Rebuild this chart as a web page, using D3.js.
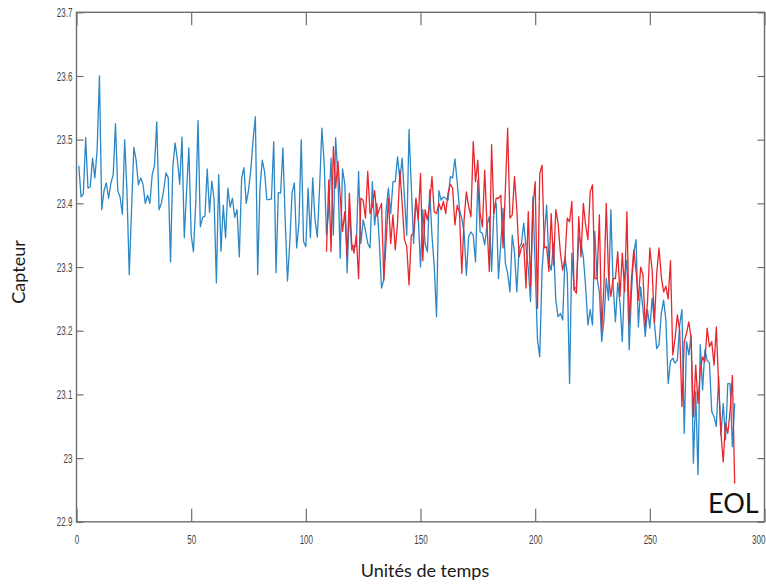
<!DOCTYPE html>
<html><head><meta charset="utf-8">
<script src="https://cdn.jsdelivr.net/npm/d3@7"></script>
<style>body{margin:0;background:#fff;}svg{display:block}</style>
</head><body>
<svg id="c" width="766" height="584"></svg>
<script>
const xTicks = [0, 50, 100, 150, 200, 250, 300];
const xTickLabels = ["0", "50", "100", "150", "200", "250", "300"];
const yTicks = [22.9, 23.0, 23.1, 23.2, 23.3, 23.4, 23.5, 23.6, 23.7];
const yTickLabels = ["22.9", "23", "23.1", "23.2", "23.3", "23.4", "23.5", "23.6", "23.7"];
const xLabel = "Unités de temps";
const yLabel = "Capteur";
const annotation = "EOL";

const blueStart = 1;
const blue = [
23.459,23.41,23.415,23.503,23.424,23.426,23.471,23.44,23.484,23.60,
23.39,23.42,23.432,23.408,23.432,23.445,23.525,23.42,23.41,23.383,
23.50,23.42,23.288,23.39,23.488,23.468,23.429,23.44,23.43,23.40,
23.413,23.40,23.445,23.459,23.528,23.39,23.40,23.42,23.448,23.44,
23.308,23.457,23.495,23.468,23.43,23.504,23.346,23.42,23.487,23.35,
23.324,23.40,23.53,23.363,23.378,23.38,23.454,23.386,23.435,23.406,
23.275,23.445,23.325,23.397,23.346,23.424,23.394,23.408,23.378,23.39,
23.316,23.44,23.456,23.40,23.42,23.453,23.50,23.536,23.288,23.424,
23.468,23.45,23.406,23.406,23.407,23.497,23.291,23.417,23.416,23.487,
23.374,23.278,23.338,23.417,23.432,23.33,23.37,23.50,23.34,23.332,
23.424,23.346,23.44,23.374,23.347,23.425,23.518,23.463,23.35,23.39,
23.471,23.35,23.503,23.44,23.314,23.454,23.43,23.291,23.39,23.327,
23.334,23.332,23.45,23.337,23.374,23.358,23.337,23.33,23.434,23.366,
23.40,23.342,23.267,23.28,23.39,23.424,23.384,23.434,23.434,23.473,
23.437,23.471,23.41,23.35,23.516,23.426,23.337,23.405,23.38,23.30,
23.39,23.337,23.324,23.421,23.35,23.30,23.222,23.42,23.405,23.41,
23.408,23.405,23.442,23.44,23.47,23.434,
23.39,23.376,23.355,23.287,23.348,23.355,23.35,23.308,23.437,23.355,
23.353,23.335,23.366,23.379,23.293,23.39,23.40,23.282,23.337,23.392,
23.306,23.29,23.261,23.35,23.322,23.261,23.33,23.337,23.369,23.332,
23.298,23.246,23.41,23.301,23.186,23.159,23.295,23.348,23.397,23.308,
23.295,23.337,23.248,23.222,
23.227,23.217,23.316,23.29,23.117,23.322,23.264,23.269,23.348,23.337,
23.316,23.269,23.209,23.233,23.209,23.356,23.282,23.261,23.183,23.217,
23.282,23.248,23.39,23.27,23.214,23.275,23.243,23.183,23.285,23.311,
23.17,23.261,23.322,23.343,23.206,23.269,23.235,23.191,23.233,23.204,
23.251,23.212,23.172,23.178,23.227,23.248,
23.217,23.117,23.152,23.157,23.149,23.154,23.209,23.233,23.039,23.183,
23.162,23.193,22.992,23.104,22.974,23.178,23.107,23.17,23.154,23.149,
23.073,23.065,23.05,23.128,23.036,23.086,23.029,23.117,23.117,23.018,23.086
];

const redStart = 109;
const red = [
23.324,23.437,23.324,23.489,23.424,23.466,23.41,23.356,23.387,23.316,
23.416,23.337,23.322,23.35,23.282,23.408,23.405,23.377,23.45,23.384,
23.395,23.42,23.38,23.39,23.40,23.28,23.34,23.408,23.337,23.382,
23.327,23.37,23.452,23.40,23.343,23.332,23.272,23.35,23.353,23.408,
23.374,23.447,23.31,23.39,23.374,23.40,23.442,23.387,23.384,23.40,
23.39,23.403,23.384,23.416,23.43,23.424,23.366,23.397,23.385,23.29,
23.374,23.418,23.395,23.379,23.497,23.434,23.468,23.384,23.363,23.452,
23.366,23.293,23.492,23.384,23.408,23.408,23.413,23.33,23.421,23.518,
23.377,23.382,23.442,23.39,23.316,23.33,23.337,23.267,23.387,23.27,
23.395,23.434,23.235,23.447,23.46,23.33,23.332,23.293,23.384,23.303,
23.39,23.369,23.322,23.295,23.314,23.377,23.371,23.403,23.264,23.259,
23.379,23.316,23.40,23.366,23.343,23.418,23.429,23.282,23.282,23.382,
23.199,23.272,23.40,23.285,23.254,23.282,23.282,23.324,23.254,23.322,
23.261,23.387,23.209,23.282,23.327,23.293,23.248,23.30,23.288,23.206,
23.246,23.33,23.295,23.212,23.29,23.33,23.285,23.261,23.27,23.25,
23.31,23.162,23.188,23.225,23.201,23.081,23.183,23.196,23.214,23.188,
23.065,23.146,23.086,23.138,23.159,23.151,23.204,23.175,23.183,23.146,
23.206,23.115,23.039,22.994,23.055,23.039,23.073,23.13,22.96
];

const svg = d3.select("#c");
const L = 76.5, R = 764.5, T = 12.3, B = 521.8;
const x = d3.scaleLinear().domain([0, 300]).range([L, R]);
const y = d3.scaleLinear().domain([22.9, 23.7]).range([B, T]);

const axisColor = "#6e6e6e";
const labelColor = "#444";
const sx = 0.62;

// frame
svg.append("rect").attr("x", L).attr("y", T).attr("width", R - L).attr("height", B - T)
  .attr("fill", "none").attr("stroke", axisColor).attr("stroke-width", 1.4);

function styleAxis(g) {
  g.select(".domain").remove();
  g.selectAll(".tick line").attr("stroke", axisColor).attr("stroke-width", 1.2);
  g.selectAll("text").attr("fill", labelColor)
    .attr("font-family", "'Liberation Sans', Arial, sans-serif").attr("font-size", 13);
}

// bottom
const gb = svg.append("g").attr("transform", `translate(0,${B})`)
  .call(d3.axisBottom(x).tickValues(xTicks).tickFormat((d, i) => xTickLabels[i])
    .tickSizeInner(-13).tickSizeOuter(0).tickPadding(13));
styleAxis(gb);
gb.selectAll("text").attr("transform", `scale(${sx},1)`);
// keep the last label inside the page
gb.selectAll("text").filter(d => d === xTicks[xTicks.length - 1])
  .attr("text-anchor", "end").attr("x", (765 - x(xTicks[xTicks.length - 1])) / sx);

// top
const gt = svg.append("g").attr("transform", `translate(0,${T})`)
  .call(d3.axisTop(x).tickValues(xTicks).tickFormat("").tickSizeInner(-13).tickSizeOuter(0));
styleAxis(gt);

// left
const gl = svg.append("g").attr("transform", `translate(${L},0)`)
  .call(d3.axisLeft(y).tickValues(yTicks).tickFormat((d, i) => yTickLabels[i])
    .tickSizeInner(-7).tickSizeOuter(0).tickPadding(4));
styleAxis(gl);
gl.selectAll("text").attr("x", -4 / sx).attr("transform", `scale(${sx},1)`);

// right
const gr = svg.append("g").attr("transform", `translate(${R},0)`)
  .call(d3.axisRight(y).tickValues(yTicks).tickFormat("").tickSizeInner(-7).tickSizeOuter(0));
styleAxis(gr);

// lines
const line = d3.line().x(d => x(d[0])).y(d => y(d[1]));
const blueData = blue.map((v, i) => [blueStart + i, v]);
const redData = red.map((v, i) => [redStart + i, v]);

svg.append("path").datum(blueData).attr("d", line)
  .attr("fill", "none").attr("stroke", "#2b87c6").attr("stroke-width", 1.3).attr("stroke-linejoin", "round");
svg.append("path").datum(redData).attr("d", line)
  .attr("fill", "none").attr("stroke", "#e8262d").attr("stroke-width", 1.3).attr("stroke-linejoin", "round");

// titles
svg.append("text").attr("x", 425).attr("y", 577).attr("text-anchor", "middle")
  .attr("font-family", "Lato, 'Open Sans', sans-serif").attr("font-size", 18).attr("fill", "#1a1a1a")
  .text(xLabel);
svg.append("text").attr("transform", "translate(25,272) rotate(-90)").attr("text-anchor", "middle")
  .attr("font-family", "Lato, 'Open Sans', sans-serif").attr("font-size", 18).attr("fill", "#1a1a1a")
  .text(yLabel);

// annotation
svg.append("text").attr("x", 708).attr("y", 513).attr("text-anchor", "start")
  .attr("font-family", "Lato, 'Open Sans', sans-serif").attr("font-size", 27).attr("fill", "#111")
  .text(annotation);
</script>
</body></html>
